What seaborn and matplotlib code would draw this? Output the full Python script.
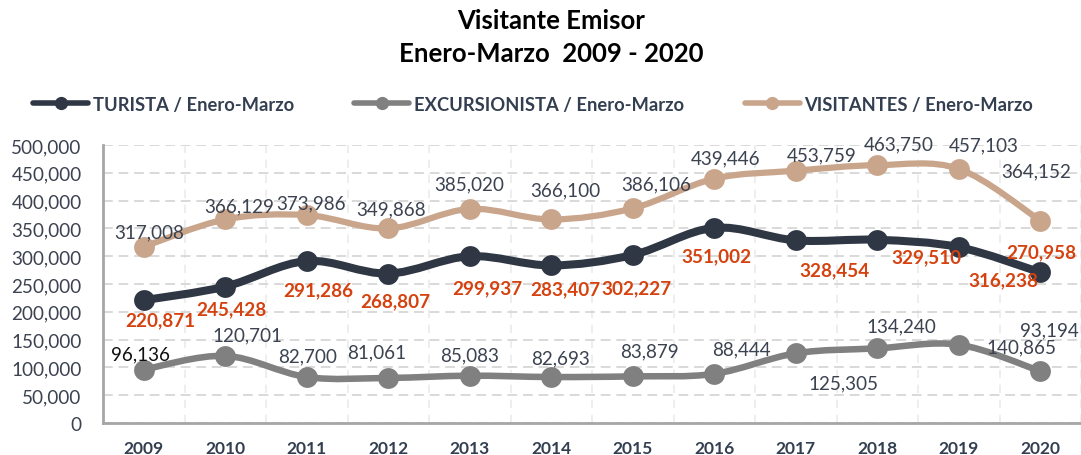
import numpy as np
import pandas as pd
import matplotlib
matplotlib.use("Agg")
import matplotlib.pyplot as plt
import seaborn as sns
from matplotlib.path import Path
from matplotlib.patches import PathPatch
from matplotlib.lines import Line2D
from matplotlib.ticker import FuncFormatter

# ---------------- data ----------------
years = [2009, 2010, 2011, 2012, 2013, 2014, 2015, 2016, 2017, 2018, 2019, 2020]
turista = [220871, 245428, 291286, 268807, 299937, 283407, 302227, 351002, 328454, 329510, 316238, 270958]
excursionista = [96136, 120701, 82700, 81061, 85083, 82693, 83879, 88444, 125305, 134240, 140865, 93194]
visitantes = [317008, 366129, 373986, 349868, 385020, 366100, 386106, 439446, 453759, 463750, 457103, 364152]
series_names = ["TURISTA / Enero-Marzo", "EXCURSIONISTA / Enero-Marzo", "VISITANTES / Enero-Marzo"]
title_lines = ["Visitante Emisor", "Enero-Marzo  2009 - 2020"]

# ---------------- layout / style ----------------
# label offsets in pixels (dx right, dy down) relative to each point
vis_off = [(5, -15), (14, -14), (4, -12), (3, -20), (-1, -25), (14, -30), (23, -24), (11, -21), (26, -16), (22, -21), (25, -24), (-4, -50)]
tur_off = [(17, 20), (6, 22), (12, 29), (7, 27), (18, 32), (14, 23), (4, 33), (2, 28), (39, 29), (49, 17), (45, 33), (1, -21)]
exc_off = [(-3, -16), (22, -21), (1, -21), (-12, -26), (0, -21), (9, -19), (17, -25), (27, -25), (48, 30), (24, -22), (63, 2), (9, -41)]

C_TUR = "#2F3744"
C_EXC = "#808080"
C_VIS = "#C9A58C"
C_TEXT = "#3B4250"
C_RED = "#D5420F"

sns.set_style("white")
plt.rcParams["font.family"] = ["Lato", "DejaVu Sans"]

W, H = 1081, 456
fig = plt.figure(figsize=(W / 100, H / 100), dpi=100)
ax = fig.add_axes([103 / W, (H - 424) / H, (W - 103) / W, 278 / H])

idx = np.arange(len(years))


def smooth_path(x, y):
    pts = np.column_stack([x, y]).astype(float)
    n = len(pts)
    verts = [pts[0]]
    codes = [Path.MOVETO]
    for i in range(n - 1):
        p0 = pts[i - 1] if i > 0 else pts[i]
        p1 = pts[i]
        p2 = pts[i + 1]
        p3 = pts[i + 2] if i + 2 < n else pts[i + 1]
        c1 = p1 + (p2 - p0) / 6.0
        c2 = p2 - (p3 - p1) / 6.0
        verts += [c1, c2, p2]
        codes += [Path.CURVE4] * 3
    return Path(verts, codes)


ax.set_xlim(-0.5, 11.5)
ax.set_ylim(0, 500000)

specs = [
    (visitantes, C_VIS, 4.5, 2),
    (excursionista, C_EXC, 4.7, 2),
    (turista, C_TUR, 5.8, 3),
]
for vals, col, lw, z in specs:
    ax.add_patch(PathPatch(smooth_path(idx, vals), facecolor="none", edgecolor=col,
                           lw=lw, capstyle="round", joinstyle="round", zorder=z))

df = pd.DataFrame({
    "x": np.concatenate([idx, idx, idx]),
    "value": visitantes + excursionista + turista,
    "serie": [series_names[2]] * 12 + [series_names[1]] * 12 + [series_names[0]] * 12,
})
palette = {series_names[0]: C_TUR, series_names[1]: C_EXC, series_names[2]: C_VIS}
for name, z in [(series_names[2], 2.5), (series_names[1], 2.5), (series_names[0], 3.5)]:
    sub = df[df["serie"] == name]
    sns.scatterplot(data=sub, x="x", y="value", color=palette[name], s=225,
                    linewidth=0, legend=False, ax=ax, zorder=z)

# data labels
def put_labels(vals, offs, color, weight, colors=None):
    for i, (v, (dx, dy)) in enumerate(zip(vals, offs)):
        c = colors[i] if colors else color
        ax.annotate(f"{v:,}", (idx[i], v), xytext=(dx, -dy), textcoords="offset pixels",
                    ha="center", va="center", fontsize=13.6, color=c, fontweight=weight,
                    zorder=6, annotation_clip=False)

put_labels(visitantes, vis_off, C_TEXT, "normal")
put_labels(excursionista, exc_off, C_TEXT, "normal", colors=["#111111"] + [C_TEXT] * 11)
put_labels(turista, tur_off, C_RED, "bold")

# axes styling
ax.set_xlabel("")
ax.set_ylabel("")
ax.set_xticks(idx)
ax.set_xticklabels([str(y) for y in years], fontsize=12.5, fontweight="bold", color="#333F50")
ax.set_xticks(np.arange(-0.5, 12, 1), minor=True)
ax.tick_params(axis="x", which="major", length=0, pad=12)
ax.tick_params(axis="x", which="minor", length=3.3, width=1.5, color="#A0A0A0", direction="out")
ax.set_yticks(np.arange(0, 500001, 50000))
ax.yaxis.set_major_formatter(FuncFormatter(lambda v, p: f"{int(v):,}"))
ax.tick_params(axis="y", which="major", length=4.5, width=1.5, color="#A0A0A0", pad=11,
               labelsize=13.6, labelcolor=C_TEXT)

ax.grid(False)
ax.grid(which="major", axis="y", color="#D9D9D9", ls=(0, (5, 3)), lw=1.4, zorder=0)
ax.grid(which="minor", axis="x", color="#EBEBEB", ls=(0, (5, 4)), lw=1.2, zorder=0)
ax.set_axisbelow(True)
for s in ["top", "right"]:
    ax.spines[s].set_visible(False)
for s in ["left", "bottom"]:
    ax.spines[s].set_color("#A6A6A6")
    ax.spines[s].set_linewidth(2)

# legend
handles = [Line2D([0], [0], color=c, lw=4, marker="o", markersize=8.5)
           for c in (C_TUR, C_EXC, C_VIS)]
leg = fig.legend(handles, series_names, loc="center left", bbox_to_anchor=(33 / W, 1 - 105 / H),
                 ncol=3, frameon=False, prop=dict(family="Lato", weight="bold", size=13.2),
                 handlelength=3.0, handletextpad=0.25, columnspacing=3.3,
                 borderpad=0, borderaxespad=0)
for t in leg.get_texts():
    t.set_color("#333F50")

# title
fig.text(551 / W, 1 - 21 / H, title_lines[0], ha="center", va="center",
         fontsize=18.5, fontweight="bold", color="black")
fig.text(551 / W, 1 - 54 / H, title_lines[1], ha="center", va="center",
         fontsize=18.5, fontweight="bold", color="black")

fig.savefig("out.png", dpi=100)
